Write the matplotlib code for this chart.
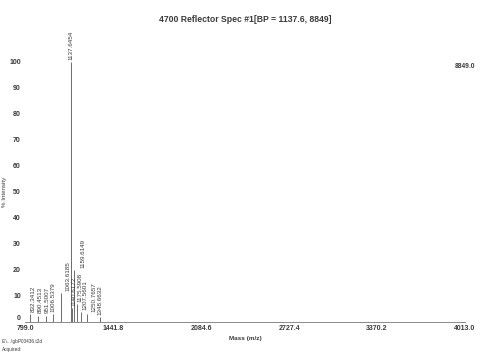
import matplotlib
matplotlib.use("Agg")
import matplotlib.pyplot as plt

# peak list (m/z, % intensity)
masses = [832.3412, 890.4513, 951.5007, 1006.5379, 1063.6185, 1137.6454,
          1140.6172, 1159.6149, 1175.5908, 1207.5601, 1250.7657, 1348.6632]
intensity = [3.0, 2.5, 2.5, 3.0, 11.0, 100.0,
             5.5, 20.0, 7.0, 4.0, 3.0, 2.0]
peak_labels = ["832.3412", "890.4513", "951.5007", "1006.5379", "1063.6185", "1137.6454",
               "1140.6172", "1159.6149", "1175.5908", "1207.5601", "1250.7657", "1348.6632"]

x_ticks = [799.0, 1441.8, 2084.6, 2727.4, 3370.2, 4013.0]
y_ticks = [0, 10, 20, 30, 40, 50, 60, 70, 80, 90, 100]

title = "4700 Reflector Spec #1[BP = 1137.6, 8849]"
max_counts = "8849.0"

# label nudges (points) so the crowded labels sit like in the original
label_dx = [3, 2, 1, 0, 5, 0, 1.5, 6, 2.5, 3, 5, 0]

plt.rcParams["font.family"] = ["Liberation Sans", "DejaVu Sans"]
ink = "#3a3a3a"

fig = plt.figure(figsize=(4.91, 3.53), dpi=100)
ax = fig.add_axes([25 / 491, 31 / 353, 440 / 491, 260 / 353])

ax.vlines(masses, 0, intensity, color="#555555", linewidth=0.6)

for m, h, lab, dx in zip(masses, intensity, peak_labels, label_dx):
    ax.annotate(lab, (m, h), xytext=(dx, 1.5), textcoords="offset points",
                rotation=90, ha="center", va="bottom", fontsize=4.5,
                color=ink, clip_on=False)

ax.set_xlim(x_ticks[0], x_ticks[-1])
ax.set_ylim(0, 100)
ax.set_xticks(x_ticks)
ax.set_xticklabels([f"{t:.1f}" for t in x_ticks], fontsize=5,
                   fontweight="bold", color=ink)
ax.set_yticks(y_ticks)
ax.set_yticklabels([str(t) for t in y_ticks], fontsize=5,
                   fontweight="bold", color=ink)
ax.tick_params(axis="both", length=0, pad=2)
ax.tick_params(axis="y", pad=3)
# the zero label sits a little above the axis line in the original
ax.get_yticklabels()[0].set_va("bottom")

for side in ["top", "right", "left"]:
    ax.spines[side].set_visible(False)
ax.spines["bottom"].set_color("#777777")
ax.spines["bottom"].set_linewidth(0.6)

ax.set_xlabel("Mass (m/z)", fontsize=4.6, fontweight="bold", color=ink, labelpad=3)
ax.set_ylabel("% Intensity", fontsize=4.4, color=ink)
ax.yaxis.set_label_coords(-18 / 440, 0.5)

fig.text(0.5, 1 - 20 / 353, title, ha="center", va="center",
         fontsize=6.2, fontweight="bold", color=ink)
fig.text(465 / 491, 1 - 67 / 353, max_counts, ha="center", va="center",
         fontsize=4.8, fontweight="bold", color=ink)
fig.text(2 / 491, 1 - 342 / 353, "E:\\...\\gbP03436.t2d", ha="left", va="center",
         fontsize=3.4, color=ink)
fig.text(2 / 491, 1 - 349 / 353, "Acquired:", ha="left", va="center",
         fontsize=3.4, color=ink)

fig.savefig("out.png", dpi=100, facecolor="white")
